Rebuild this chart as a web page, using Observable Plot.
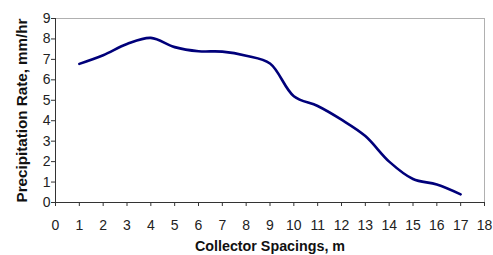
<!DOCTYPE html>
<html>
<head>
<meta charset="utf-8">
<script src="https://cdn.jsdelivr.net/npm/d3@7"></script>
<script src="https://cdn.jsdelivr.net/npm/@observablehq/plot@0.6"></script>
<style>
  html, body { margin: 0; padding: 0; background: #fff; }
  #chart svg { display: block; }
</style>
</head>
<body>
<div id="chart"></div>
<script>
const spacing = [1, 2, 3, 4, 5, 6, 7, 8, 9, 10, 11, 12, 13, 14, 15, 16, 17];
const rate = [6.78, 7.2, 7.75, 8.05, 7.6, 7.4, 7.38, 7.18, 6.8, 5.2, 4.72, 4.05, 3.25, 2.0, 1.15, 0.88, 0.4];
const xTicks = [0, 1, 2, 3, 4, 5, 6, 7, 8, 9, 10, 11, 12, 13, 14, 15, 16, 17, 18];
const yTicks = [0, 1, 2, 3, 4, 5, 6, 7, 8, 9];

const data = spacing.map((x, i) => ({x, y: rate[i]}));

const chart = Plot.plot({
  width: 493,
  height: 255,
  marginLeft: 55,
  marginRight: 9,
  marginTop: 18,
  marginBottom: 53,
  style: {fontFamily: "Liberation Sans, Arial, sans-serif", fontSize: "14px", color: "#222", background: "#fff"},
  x: {domain: [0, 18]},
  y: {domain: [0, 9]},
  marks: [
    Plot.frame({stroke: "#b0b0b0", strokeWidth: 1}),
    Plot.axisX({ticks: xTicks, tickSize: 4, tickPadding: 14, fontSize: 14, label: null, stroke: "#333"}),
    Plot.axisY({ticks: yTicks, tickSize: 4, tickPadding: 1, fontSize: 14, label: null, stroke: "#333"}),
    Plot.ruleY([0], {stroke: "#333", strokeWidth: 1}),
    Plot.ruleX([0], {stroke: "#333", strokeWidth: 1}),
    Plot.line(data, {x: "x", y: "y", curve: "catmull-rom", stroke: "#00007a", strokeWidth: 2.6}),
    Plot.text(["Collector Spacings, m"], {frameAnchor: "bottom", dy: 48, fontWeight: "bold", fontSize: 14.3, fill: "#111"}),
    Plot.text(["Precipitation Rate, mm/hr"], {frameAnchor: "left", textAnchor: "middle", dx: -33, rotate: -90, fontWeight: "bold", fontSize: 15.2, fill: "#111"})
  ]
});
document.getElementById("chart").append(chart);
</script>
</body>
</html>
